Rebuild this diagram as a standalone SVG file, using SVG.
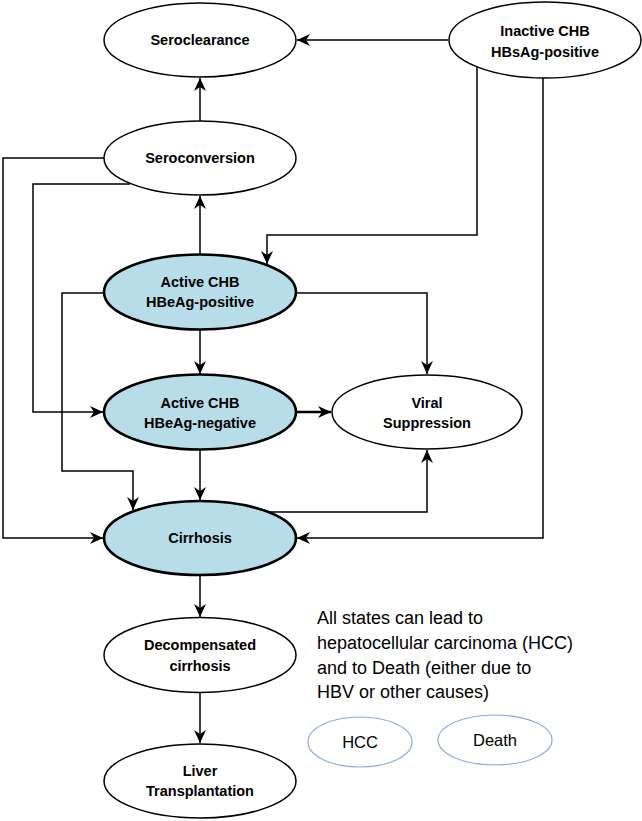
<svg xmlns="http://www.w3.org/2000/svg" width="642" height="821" viewBox="0 0 642 821">
<style>
.n{fill:#ffffff;stroke:#000;stroke-width:1.5}
.a{fill:#b7dde8;stroke:#000;stroke-width:2.6}
.o{fill:#ffffff;stroke:#8eaadb;stroke-width:1.2}
.t{font-family:"Liberation Sans",Arial,sans-serif;font-weight:bold;font-size:14.5px;text-anchor:middle;fill:#000}
.r{font-family:"Liberation Sans",Arial,sans-serif;font-size:18px;fill:#000}
.rc{font-family:"Liberation Sans",Arial,sans-serif;font-size:16.5px;text-anchor:middle;fill:#000}
.c{fill:none;stroke:#000;stroke-width:1.5;marker-end:url(#ah)}
</style>
<defs>
<marker id="ah" markerUnits="userSpaceOnUse" markerWidth="14" markerHeight="12" refX="13" refY="6" orient="auto">
<path d="M0,0 L13,6 L0,12 L4,6 z" fill="#000"/>
</marker>
</defs>
<rect width="642" height="821" fill="#ffffff"/>
<g id="connectors">
<path class="c" d="M448,40 L297,40"/>
<path class="c" d="M200,121 L200,78"/>
<path class="c" d="M200,254 L200,196"/>
<path class="c" d="M477,66 L477,235 L267,235 L267,264"/>
<path class="c" d="M104,158 L3,158 L3,538 L103,538"/>
<path class="c" d="M130,184 L33,184 L33,412 L103,412"/>
<path class="c" d="M104,293 L62,293 L62,471 L133,471 L133,510"/>
<path class="c" d="M296,293 L427,293 L427,374"/>
<path class="c" d="M200,330 L200,374"/>
<path class="c" d="M296,412 L331,412" style="stroke-width:2.6"/>
<path class="c" d="M200,450 L200,500"/>
<path class="c" d="M543,78 L543,538 L297,538"/>
<path class="c" d="M268,512 L427,512 L427,450"/>
<path class="c" d="M200,575 L200,617"/>
<path class="c" d="M200,693 L200,743"/>
</g>
<g id="seroclearance"><ellipse class="n" cx="200" cy="40" rx="96" ry="37"/><text class="t" x="200" y="45">Seroclearance</text></g>
<g id="inactive"><ellipse class="n" cx="545" cy="40" rx="96" ry="38"/><text class="t" x="545" y="36">Inactive CHB</text><text class="t" x="545" y="57">HBsAg-positive</text></g>
<g id="seroconversion"><ellipse class="n" cx="200" cy="158" rx="96" ry="37"/><text class="t" x="200" y="163">Seroconversion</text></g>
<g id="active-pos"><ellipse class="a" cx="200" cy="292" rx="96" ry="37.5"/><text class="t" x="200" y="287">Active CHB</text><text class="t" x="200" y="307">HBeAg-positive</text></g>
<g id="active-neg"><ellipse class="a" cx="200" cy="412" rx="96" ry="37.5"/><text class="t" x="200" y="408">Active CHB</text><text class="t" x="200" y="428">HBeAg-negative</text></g>
<g id="viral"><ellipse class="n" cx="427" cy="412" rx="95" ry="37"/><text class="t" x="427" y="408">Viral</text><text class="t" x="427" y="428">Suppression</text></g>
<g id="cirrhosis"><ellipse class="a" cx="200" cy="538" rx="96" ry="37"/><text class="t" x="200" y="543">Cirrhosis</text></g>
<g id="decompensated"><ellipse class="n" cx="200" cy="655" rx="96" ry="37.5"/><text class="t" x="200" y="650">Decompensated</text><text class="t" x="200" y="671">cirrhosis</text></g>
<g id="liver"><ellipse class="n" cx="200" cy="781" rx="96" ry="37"/><text class="t" x="200" y="776">Liver</text><text class="t" x="200" y="796">Transplantation</text></g>
<g id="note"><text class="r" x="317" y="624">All states can lead to</text><text class="r" x="317" y="649">hepatocellular carcinoma (HCC)</text><text class="r" x="317" y="674">and to Death (either due to</text><text class="r" x="317" y="698">HBV or other causes)</text></g>
<g id="hcc"><ellipse class="o" cx="360" cy="742" rx="52" ry="25"/><text class="rc" x="360" y="748">HCC</text></g>
<g id="death"><ellipse class="o" cx="495" cy="740" rx="57" ry="25"/><text class="rc" x="495" y="746">Death</text></g>
</svg>
